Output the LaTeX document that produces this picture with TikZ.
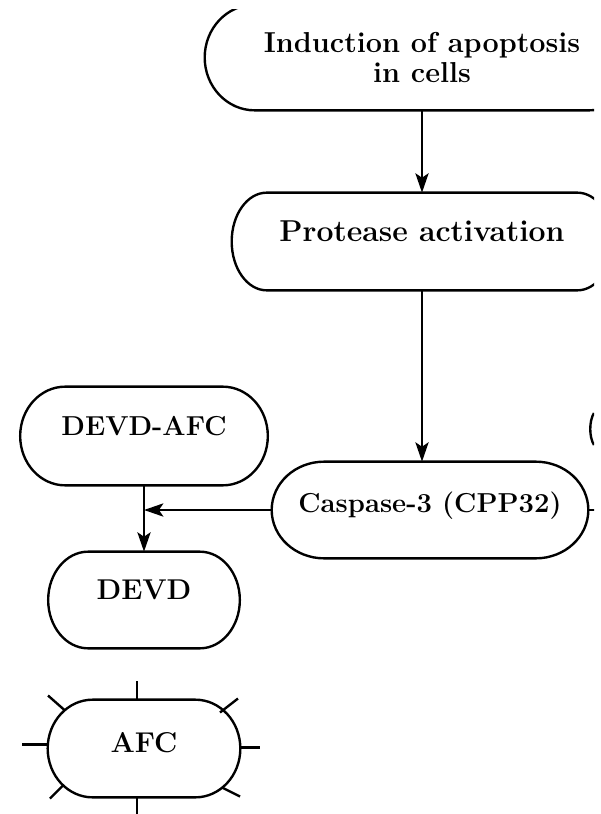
\documentclass[tikz,border=0pt]{standalone}
\usepackage{tikz}
\usetikzlibrary{arrows.meta,calc}
\tikzset{
  pill/.style={rectangle,inner sep=0pt,font=\bfseries\fontsize{16.3}{17}\selectfont},
  lift/.style={text depth=#1},
  flow/.style={line width=1.35pt,-{Stealth[length=11pt,width=7.5pt,inset=2.5pt]}},
  edge/.style={line width=1.35pt}
}
% outline of a box with elliptic ends: node name, end width
\newcommand{\pillline}[2]{%
  \draw[edge] let \p1=(#1.north east), \p2=(#1.south west), \n1={(\y1-\y2)/2} in
    ({\x2+#2},\y1) -- ({\x1-#2},\y1) arc[start angle=90,end angle=-90,x radius=#2,y radius=\n1]
    -- ({\x2+#2},\y2) arc[start angle=270,end angle=90,x radius=#2,y radius=\n1] -- cycle;}

\begin{document}
\begin{tikzpicture}[x=0.02cm,y=0.02cm]
  \useasboundingbox (0,0) rectangle (601,-814);
  \clip (0,-10) rectangle (594,-814);

  \node[pill,minimum width=86.8mm,minimum height=21mm,align=center,
        font=\bfseries\fontsize{16.4}{17.5}\selectfont] (induce) at (422,-57.5)
        {Induction of apoptosis\\in cells};
  \node[pill,lift=11.4pt,minimum width=76mm,minimum height=19.4mm,
        font=\bfseries\fontsize{17.2}{17}\selectfont] (protease) at (422,-241.5) {Protease activation};
  \node[pill,lift=8.5pt,minimum width=63.2mm,minimum height=19.2mm,
        font=\bfseries\fontsize{15.6}{17}\selectfont] (caspase) at (430,-510) {Caspase-3 (CPP32)};
  \node[pill,lift=11.4pt,minimum width=49.4mm,minimum height=19.6mm,
        font=\bfseries\fontsize{15.6}{17}\selectfont] (devdafc) at (144,-436) {DEVD-AFC};
  \node[pill,lift=11.4pt,minimum width=38.2mm,minimum height=19.2mm] (devd) at (144,-600) {DEVD};
  \node[pill,lift=6.3pt,minimum width=38.4mm,minimum height=19.4mm] (afc) at (144,-748.5) {AFC};

  \pillline{induce}{10mm}
  \pillline{protease}{7mm}
  \pillline{caspase}{10.5mm}
  \pillline{devdafc}{9mm}
  \pillline{devd}{8mm}
  \pillline{afc}{9mm}

  \coordinate (hit) at (devdafc.south |- caspase.west);
  \draw[flow] (induce.south) -- (protease.north);
  \draw[flow] (protease.south) -- (protease.south |- caspase.north);
  \draw[flow] (caspase.west) -- (hit);
  \draw[flow] (devdafc.south) -- (devd.north);

  % cut off at the right edge
  \draw[edge] (caspase.east) -- ++(20,0);
  \draw[edge] (594,-413) .. controls (589,-421) and (589,-437) .. (594,-445);

  % rays round AFC
  \foreach \a/\b in {{-7,48}/{-7,68},{-7,-49}/{-7,-70},{-96,4}/{-122,4},{96,1}/{116,1},
                     {-79,38}/{-96,53},{76,36}/{94,50},{-81,-37}/{-94,-50},{78,-39}/{96,-48}}
    \draw[edge] ([shift={(\a)}]afc.center) -- ([shift={(\b)}]afc.center);
\end{tikzpicture}
\end{document}
